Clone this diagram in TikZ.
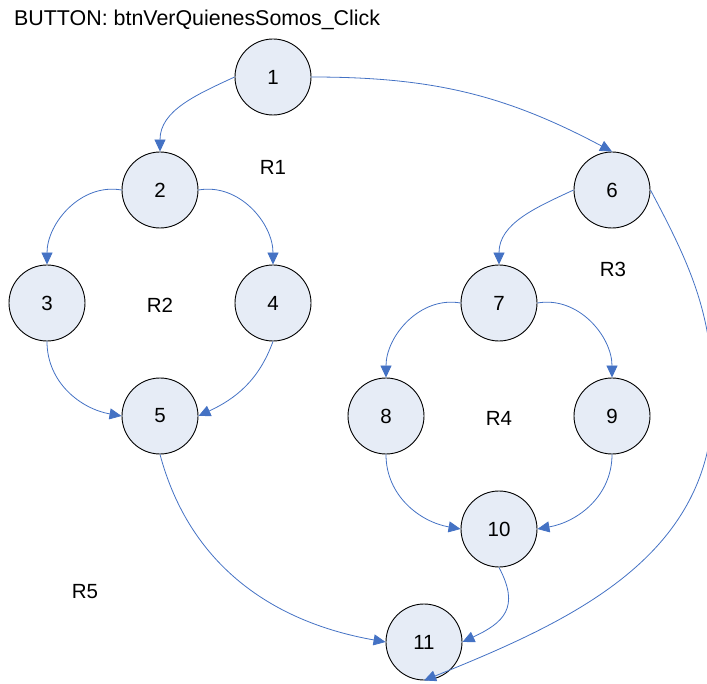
\documentclass[tikz,border=0pt]{standalone}
\usepackage{fontspec}
\setmainfont{Liberation Sans}
\usetikzlibrary{arrows.meta}
\definecolor{edgeblue}{RGB}{68,114,196}
\definecolor{nodefill}{RGB}{230,236,246}
\begin{document}
\begin{tikzpicture}[x=1pt,y=1pt,
  vtx/.style={circle,draw=black,line width=0.9pt,fill=nodefill,minimum size=76pt,inner sep=0pt,font=\fontsize{20.5}{24}\selectfont},
  lbl/.style={font=\fontsize{20.5}{24}\selectfont,inner sep=0pt},
  edge/.style={draw=edgeblue,line width=0.8pt,-{Triangle[length=12pt,width=11pt]}}]
\useasboundingbox (0,0) rectangle (707,-684);
\node[lbl,anchor=west,font=\fontsize{21.4}{25}\selectfont] (title) at (14,-20) {BUTTON: btnVerQuienesSomos\_Click};
\node[vtx] (n1) at (273,-77) {1};
\node[vtx] (n2) at (160,-190) {2};
\node[vtx] (n3) at (47,-303) {3};
\node[vtx] (n4) at (273,-303) {4};
\node[vtx] (n5) at (160,-416) {5};
\node[vtx] (n6) at (612,-190) {6};
\node[vtx] (n7) at (499,-303) {7};
\node[vtx] (n8) at (386,-416) {8};
\node[vtx] (n9) at (612,-416) {9};
\node[vtx] (n10) at (499,-529) {10};
\node[vtx] (n11) at (424,-642) {11};
\node[lbl] (r1) at (273,-167) {R1};
\node[lbl] (r2) at (160,-305) {R2};
\node[lbl] (r3) at (613,-269) {R3};
\node[lbl] (r4) at (499,-418) {R4};
\node[lbl] (r5) at (85,-592) {R5};
\coordinate (c611) at (713,-400);
\draw[edge] (n1.west) to[out=205,in=90] (n2.north);
\draw[edge] (n1.east) to[out=0,in=152] (n6.north);
\draw[edge] (n2.west) to[out=170,in=90] (n3.north);
\draw[edge] (n2.east) to[out=10,in=90] (n4.north);
\draw[edge] (n3.south) to[out=-90,in=170] (n5.west);
\draw[edge] (n4.south) to[out=-110,in=25] (n5.east);
\draw[edge] (n5.south) to[out=-75,in=170] (n11.west);
\draw[edge] (n6.west) to[out=205,in=90] (n7.north);
\draw[draw=edgeblue,line width=0.8pt] (n6.east) to[out=-62,in=90] (c611);
\draw[edge] (c611) to[out=-90,in=22] (n11.south);
\draw[edge] (n7.west) to[out=170,in=90] (n8.north);
\draw[edge] (n7.east) to[out=10,in=90] (n9.north);
\draw[edge] (n8.south) to[out=-90,in=170] (n10.west);
\draw[edge] (n9.south) to[out=-90,in=10] (n10.east);
\draw[edge] (n10.south) to[out=-62,in=25,looseness=1.4] (n11.east);
\end{tikzpicture}
\end{document}
